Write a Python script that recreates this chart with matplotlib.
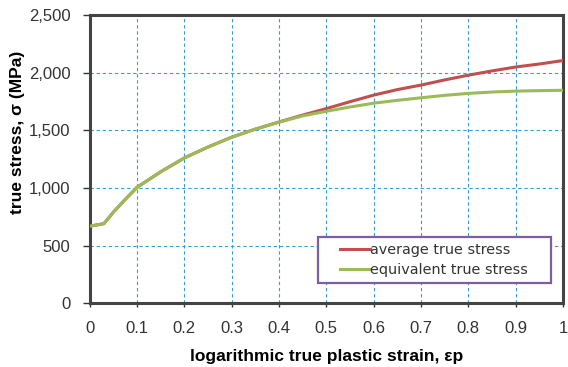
import numpy as np
import matplotlib.pyplot as plt
from matplotlib.patches import Rectangle
from matplotlib.ticker import FuncFormatter

plt.rcParams['font.family'] = ['Liberation Sans', 'DejaVu Sans']

#%% Data
strain_eq = [0.0, 0.03, 0.05, 0.075, 0.1, 0.15, 0.2, 0.25, 0.3, 0.35, 0.4,
             0.45, 0.5, 0.55, 0.6, 0.65, 0.7, 0.75, 0.8, 0.85, 0.9, 0.95, 1.0]
stress_eq = [668, 690, 790, 900, 1005, 1140, 1260, 1355, 1440, 1510, 1570,
             1625, 1665, 1702, 1735, 1760, 1782, 1803, 1820, 1832, 1840, 1844, 1847]

strain_avg = [0.0, 0.03, 0.05, 0.075, 0.1, 0.15, 0.2, 0.25, 0.3, 0.35, 0.4,
              0.45, 0.5, 0.55, 0.6, 0.65, 0.7, 0.75, 0.8, 0.85, 0.9, 0.95, 1.0]
stress_avg = [668, 690, 790, 900, 1005, 1140, 1260, 1355, 1440, 1510, 1572,
              1632, 1688, 1748, 1805, 1853, 1892, 1937, 1978, 2015, 2049, 2075, 2105]

xticks = [0, 0.1, 0.2, 0.3, 0.4, 0.5, 0.6, 0.7, 0.8, 0.9, 1]
xtick_labels = ['0', '0.1', '0.2', '0.3', '0.4', '0.5', '0.6', '0.7', '0.8', '0.9', '1']
yticks = [0, 500, 1000, 1500, 2000, 2500]

#%% Figure
fig = plt.figure(figsize=(5.68, 3.67), dpi=100)
ax = fig.add_axes([0.158, 0.174, 0.833, 0.785])

ax.plot(strain_avg, stress_avg, color='#c0504d', lw=2.2, label='average true stress', zorder=3)
ax.plot(strain_eq, stress_eq, color='#9bbb59', lw=2.2, label='equivalent true stress', zorder=4)

ax.set_xlim(0, 1)
ax.set_ylim(0, 2500)
ax.set_xticks(xticks)
ax.set_xticklabels(xtick_labels)
ax.set_yticks(yticks)
ax.yaxis.set_major_formatter(FuncFormatter(lambda v, p: f'{int(v):,}'))
ax.tick_params(labelsize=12, colors='#333333', length=5, width=1, pad=9)
ax.tick_params(axis='x', length=3, pad=10)

ax.grid(True, color='#3a9bd0', ls=(0, (3, 2.5)), lw=0.8)
for s in ax.spines.values():
    s.set_color('#444444')
    s.set_linewidth(2.2)

ax.set_xlabel('logarithmic true plastic strain, εp', fontsize=12.5, fontweight='bold', labelpad=9)
ax.set_ylabel('true stress, σ (MPa)', fontsize=12.5, fontweight='bold')
ax.yaxis.set_label_coords(-0.137, 0.594)

# legend box (fixed size, like the spreadsheet one)
box = Rectangle((0.482, 0.069), 0.493, 0.16, transform=ax.transAxes, facecolor='white',
                edgecolor='#7b5fa0', lw=1.6, zorder=5)
ax.add_patch(box)
leg = ax.legend(loc='center left', bbox_to_anchor=(0.5285, 0.149), frameon=False,
                prop={'family': 'DejaVu Sans', 'size': 10.4}, handlelength=2.1,
                handletextpad=0.0, borderpad=0, borderaxespad=0, labelspacing=0.45)
leg.set_zorder(6)
for t in leg.get_texts():
    t.set_color('#333333')

fig.savefig('out.png', dpi=100)
